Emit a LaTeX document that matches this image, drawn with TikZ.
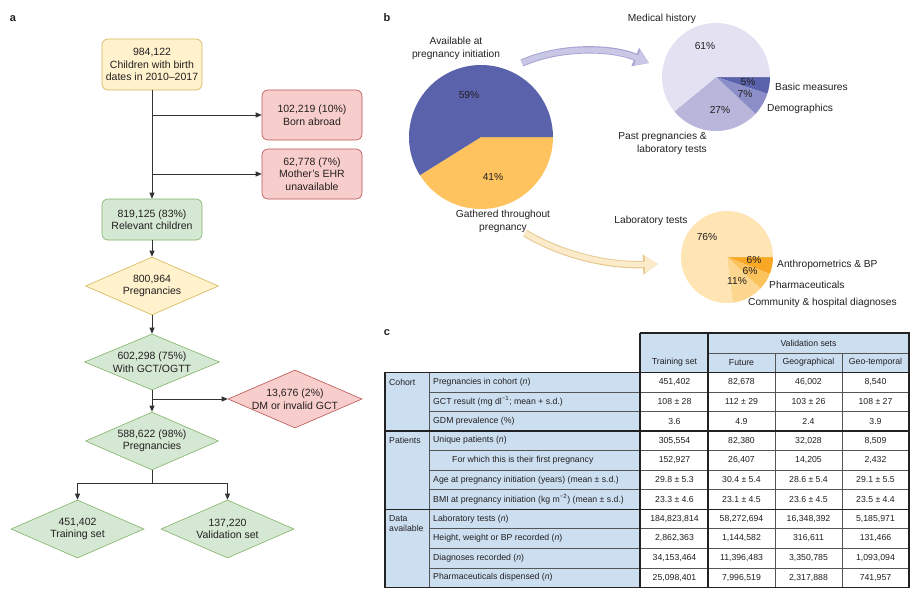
\documentclass[tikz,border=0pt]{standalone}
\usepackage{fontspec}
\setmainfont{Liberation Sans}
\usetikzlibrary{shapes.geometric,arrows.meta}
\definecolor{ylwF}{HTML}{FFF2CC}
\definecolor{ylwD}{HTML}{D6B656}
\definecolor{redF}{HTML}{F8CECC}
\definecolor{redD}{HTML}{B85450}
\definecolor{grnF}{HTML}{D5E8D4}
\definecolor{grnD}{HTML}{82B366}
\definecolor{lineC}{HTML}{333333}
\definecolor{txtC}{HTML}{231F20}
\definecolor{bigB}{HTML}{5A62AC}
\definecolor{bigY}{HTML}{FEC35E}
\definecolor{medH}{HTML}{E4E2F2}
\definecolor{pastP}{HTML}{B9B6DC}
\definecolor{demoG}{HTML}{8C8FC7}
\definecolor{basM}{HTML}{5A62AC}
\definecolor{labT}{HTML}{FFE5B4}
\definecolor{comD}{HTML}{FDD68F}
\definecolor{phaR}{HTML}{FCC25B}
\definecolor{antH}{HTML}{F8A825}
\definecolor{lavF}{HTML}{C9C7E6}
\definecolor{lavD}{HTML}{A7A4D3}
\definecolor{crmF}{HTML}{FCEBCB}
\definecolor{crmD}{HTML}{E6C88E}
\definecolor{tblB}{HTML}{CCDFF1}
\definecolor{tblD}{HTML}{222222}
\definecolor{tblT}{HTML}{555555}
\newcommand\flowfont{\fontsize{10.5}{12.5}\selectfont}
\newcommand\piefont{\fontsize{10.2}{12.8}\selectfont}
\newcommand\tabfont{\fontsize{8.7}{9.6}\selectfont}
\newcommand\tabrow[6]{%
  \node[tlab] (r#1l) at ({433},{372.3+19.55*(#1+0.5)}) {#2};
  \node[tval] (r#1a) at ({674.5},{372.3+19.55*(#1+0.5)}) {#3};
  \node[tval] (r#1b) at ({741.5},{372.3+19.55*(#1+0.5)}) {#4};
  \node[tval] (r#1c) at ({808.5},{372.3+19.55*(#1+0.5)}) {#5};
  \node[tval] (r#1d) at ({875.5},{372.3+19.55*(#1+0.5)}) {#6};
}
\begin{document}
\begin{tikzpicture}[x=1pt,y=-1pt,
  every node/.style={text=txtC},
  panel/.style={font=\fontsize{11}{13}\selectfont\bfseries, inner sep=0pt},
  fbox/.style={rounded corners=6pt, minimum width=100pt, minimum height=51pt, align=center, font=\flowfont, line width=0.6pt, inner sep=1pt},
  fdia/.style={diamond, aspect=2.3, inner sep=0pt, minimum width=133pt, minimum height=58pt, align=center, font=\flowfont, line width=0.6pt},
  ycol/.style={fill=ylwF, draw=ylwD},
  rcol/.style={fill=redF, draw=redD},
  gcol/.style={fill=grnF, draw=grnD},
  conn/.style={draw=lineC, line width=0.8pt, -{Triangle[length=6pt,width=5pt]}},
  plain/.style={draw=lineC, line width=0.8pt},
  plab/.style={font=\piefont, align=center, inner sep=0pt},
  pct/.style={font=\piefont, inner sep=0pt},
  tlab/.style={font=\tabfont, anchor=west, inner sep=0pt},
  tval/.style={font=\tabfont, inner sep=0pt},
  thick line/.style={draw=tblD, line width=1.2pt},
  thin line/.style={draw=tblT, line width=0.5pt}
]
\useasboundingbox (0,0) rectangle (919,598);
\fill[white] (0,0) rectangle (919,598);

% ---------------- panel a ----------------
\node[panel] (pa) at (13,19) {a};
\node[fbox,ycol] (n1) at (152,64.5) {984,122\\Children with birth\\dates in 2010–2017};
\node[fbox,rcol,minimum height=50pt] (ra) at (312,115) {102,219 (10\%)\\Born abroad};
\node[fbox,rcol,minimum height=50pt] (rb) at (312,174) {62,778 (7\%)\\Mother's EHR\\unavailable};
\node[fbox,gcol,minimum height=41pt] (n2) at (152,219.5) {819,125 (83\%)\\Relevant children};
\node[fdia,ycol] (d1) at (152,286) {800,964\\Pregnancies};
\node[fdia,gcol,minimum width=135pt,minimum height=56pt] (d2) at (152,362) {602,298 (75\%)\\With GCT/OGTT};
\node[fdia,rcol,minimum width=134pt,minimum height=58pt] (dm) at (295,399) {13,676 (2\%)\\DM or invalid GCT};
\node[fdia,gcol] (d3) at (152,441) {588,622 (98\%)\\Pregnancies};
\node[fdia,gcol] (tr) at (77.5,529) {451,402\\Training set};
\node[fdia,gcol] (va) at (227.5,529) {137,220\\Validation set};

\coordinate (j1) at (152,115);
\coordinate (j2) at (152,174);
\coordinate (j3) at (152,399);
\coordinate (j4) at (152,483);
\draw[conn] (n1.south) -- (n2.north);
\draw[conn] (j1) -- (ra.west);
\draw[conn] (j2) -- (rb.west);
\draw[conn] (n2.south) -- (d1.north);
\draw[conn] (d1.south) -- (d2.north);
\draw[conn] (d2.south) -- (d3.north);
\draw[conn] (j3) -- (dm.west);
\draw[plain] (d3.south) -- (j4);
\draw[conn] (j4) -| (tr.north);
\draw[conn] (j4) -| (va.north);

% ---------------- panel b ----------------
\node[panel] (pb) at (387,18) {b};
% big pie
\fill[bigY] (481,137) -- ++(0:72) arc[start angle=0, end angle=148, radius=72] -- cycle;
\fill[bigB] (481,137) -- ++(148:72) arc[start angle=148, end angle=360, radius=72] -- cycle;
\node[pct] (p59) at (469,95) {59\%};
\node[pct] (p41) at (493,177) {41\%};
\node[plab] (lav) at (456,48.5) {Available at\\pregnancy initiation};
\node[plab] (lga) at (503,221) {Gathered throughout\\pregnancy};

% top-right pie
\fill[basM] (716,77) -- ++(0:54) arc[start angle=0, end angle=18, radius=54] -- cycle;
\fill[demoG] (716,77) -- ++(18:54) arc[start angle=18, end angle=43.2, radius=54] -- cycle;
\fill[pastP] (716,77) -- ++(43.2:54) arc[start angle=43.2, end angle=140.4, radius=54] -- cycle;
\fill[medH] (716,77) -- ++(140.4:54) arc[start angle=140.4, end angle=360, radius=54] -- cycle;
\node[pct] (p61) at (705,46) {61\%};
\node[pct] (p5) at (748,82) {5\%};
\node[pct] (p7) at (745,94) {7\%};
\node[pct] (p27) at (720,110) {27\%};
\node[plab] (lmh) at (662,19) {Medical history};
\node[plab,anchor=west] (lbm) at (775,87) {Basic measures};
\node[plab,anchor=west] (ldm) at (767,109) {Demographics};
\node[plab,anchor=east,align=right] (lpp) at (707,143.5) {Past pregnancies \&\\laboratory tests};

% bottom-right pie
\fill[antH] (727,257) -- ++(0:46) arc[start angle=0, end angle=21.6, radius=46] -- cycle;
\fill[phaR] (727,257) -- ++(21.6:46) arc[start angle=21.6, end angle=43.2, radius=46] -- cycle;
\fill[comD] (727,257) -- ++(43.2:46) arc[start angle=43.2, end angle=82.8, radius=46] -- cycle;
\fill[labT] (727,257) -- ++(82.8:46) arc[start angle=82.8, end angle=360, radius=46] -- cycle;
\node[pct] (p76) at (707,237) {76\%};
\node[pct] (p6a) at (754,260) {6\%};
\node[pct] (p6b) at (750,271) {6\%};
\node[pct] (p11) at (737,281) {11\%};
\node[plab] (llt) at (651,221) {Laboratory tests};
\node[plab,anchor=west] (lan) at (777,265) {Anthropometrics \& BP};
\node[plab,anchor=west] (lph) at (769,285) {Pharmaceuticals};
\node[plab,anchor=west] (lco) at (748,303) {Community \& hospital diagnoses};

% curved arrows
\coordinate (a1s) at (522,63);
\coordinate (a1e) at (649,63);
\draw[lavD, line width=7.4pt, -{Triangle[length=15pt,width=19pt]}] (a1s) .. controls (560,46) and (612,47) .. (a1e);
\draw[lavF, line width=5.4pt, -{Triangle[length=13pt,width=16pt]}] (a1s) .. controls (560,46) and (612,47) .. (a1e);
\coordinate (a2s) at (525,233);
\coordinate (a2e) at (658,264);
\draw[crmD, line width=7.4pt, -{Triangle[length=15pt,width=19pt]}] (a2s) .. controls (556,252) and (602,266) .. (a2e);
\draw[crmF, line width=5.4pt, -{Triangle[length=13pt,width=16pt]}] (a2s) .. controls (556,252) and (602,266) .. (a2e);

% ---------------- panel c ----------------
\node[panel] (pc) at (387,333) {c};
\fill[tblB] (385,372.3) rectangle (640,587.3);
\fill[tblB] (640,333) rectangle (909,372.3);
% thin horizontal row lines
\foreach \r in {1,2,4,5,6,8,9,10} {
  \draw[thin line] (429,{372.3+19.55*\r}) -- (909,{372.3+19.55*\r});
}
\draw[thin line] (708,353) -- (909,353);
\draw[thin line] (429,372.3) -- (429,587.3);
\draw[thin line] (775,353) -- (775,587.3);
\draw[thin line] (842,353) -- (842,587.3);
% thick lines
\draw[thick line] (385,372.3) -- (909,372.3);
\draw[thick line] (385,{372.3+19.55*3}) -- (909,{372.3+19.55*3});
\draw[thick line] (385,{372.3+19.55*7}) -- (909,{372.3+19.55*7});
\draw[thick line] (640,333) -- (909,333) -- (909,587.3) -- (385,587.3) -- (385,372.3);
\draw[thick line] (640,333) -- (640,587.3);
\draw[thick line] (708,333) -- (708,587.3);

\node[tval] (hT) at (674.5,362.5) {Training set};
\node[tval] (hV) at (808.5,343) {Validation sets};
\node[tval] (hF) at (741.5,362.5) {Future};
\node[tval] (hG) at (808.5,362.5) {Geographical};
\node[tval] (hGT) at (875.5,362.5) {Geo-temporal};

\node[tlab] (sCoh) at (389,{372.3+19.55*0.5}) {Cohort};
\node[tlab] (sPat) at (389,{372.3+19.55*3.5}) {Patients};
\node[tlab,anchor=north west,align=left] (sDat) at (389,515.5) {Data\\available};

\tabrow{0}{Pregnancies in cohort (\textit{n})}{451,402}{82,678}{46,002}{8,540}
\tabrow{1}{GCT result (mg dl\textsuperscript{−1}; mean + s.d.)}{108 ± 28}{112 ± 29}{103 ± 26}{108 ± 27}
\tabrow{2}{GDM prevalence (\%)}{3.6}{4.9}{2.4}{3.9}
\tabrow{3}{Unique patients (\textit{n})}{305,554}{82,380}{32,028}{8,509}
\tabrow{4}{\hspace*{19pt}For which this is their first pregnancy}{152,927}{26,407}{14,205}{2,432}
\tabrow{5}{Age at pregnancy initiation (years) (mean ± s.d.)}{29.8 ± 5.3}{30.4 ± 5.4}{28.6 ± 5.4}{29.1 ± 5.5}
\tabrow{6}{BMI at pregnancy initiation (kg m\textsuperscript{−2}) (mean ± s.d.)}{23.3 ± 4.6}{23.1 ± 4.5}{23.6 ± 4.5}{23.5 ± 4.4}
\tabrow{7}{Laboratory tests (\textit{n})}{184,823,814}{58,272,694}{16,348,392}{5,185,971}
\tabrow{8}{Height, weight or BP recorded (\textit{n})}{2,862,363}{1,144,582}{316,611}{131,466}
\tabrow{9}{Diagnoses recorded (\textit{n})}{34,153,464}{11,396,483}{3,350,785}{1,093,094}
\tabrow{10}{Pharmaceuticals dispensed (\textit{n})}{25,098,401}{7,996,519}{2,317,888}{741,957}
\end{tikzpicture}
\end{document}
